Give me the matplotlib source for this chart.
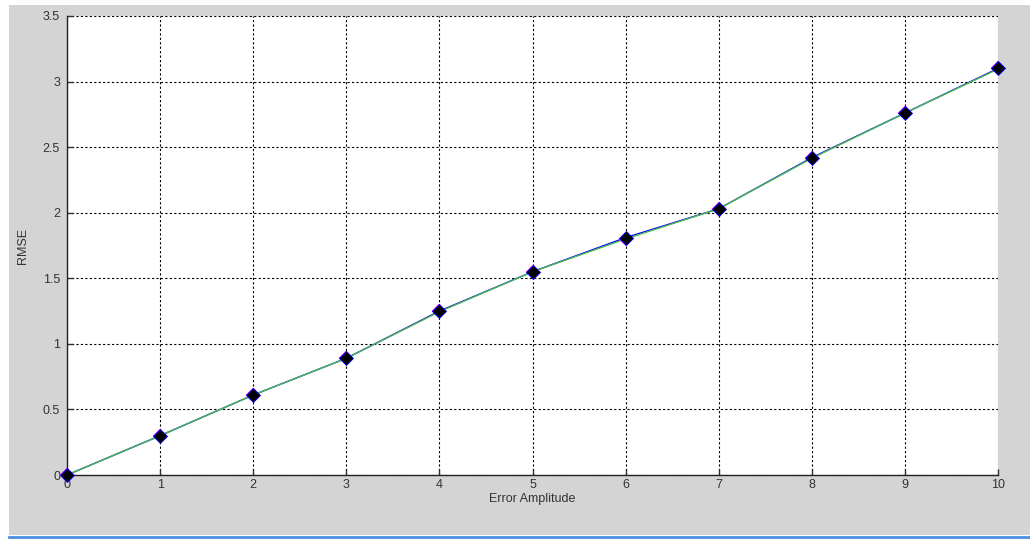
import matplotlib
matplotlib.use("Agg")
import matplotlib.pyplot as plt
from matplotlib.patches import Rectangle
from matplotlib.lines import Line2D

amplitude = [0, 1, 2, 3, 4, 5, 6, 7, 8, 9, 10]
rmse_blue = [0.0, 0.30, 0.61, 0.89, 1.25, 1.55, 1.81, 2.03, 2.42, 2.76, 3.10]
rmse_magenta = [0.0, 0.30, 0.61, 0.89, 1.25, 1.55, 1.80, 2.03, 2.42, 2.76, 3.10]
rmse_green = [0.0, 0.30, 0.61, 0.89, 1.245, 1.55, 1.80, 2.03, 2.415, 2.76, 3.095]
xticks = [0, 1, 2, 3, 4, 5, 6, 7, 8, 9, 10]
yticks = [0, 0.5, 1, 1.5, 2, 2.5, 3, 3.5]
ytick_labels = ["0", "0.5", "1", "1.5", "2", "2.5", "3", "3.5"]

W, H = 1030, 539
fig = plt.figure(figsize=(W / 100, H / 100), dpi=100)
fig.patch.set_facecolor("white")
fig.patches.append(Rectangle((9 / W, 1 - 535 / H), (W - 9) / W, 530 / H,
                             transform=fig.transFigure, facecolor="#d4d4d4",
                             edgecolor="none", zorder=-5))
fig.lines.append(Line2D([9 / W, 1], [1 - 537 / H, 1 - 537 / H], transform=fig.transFigure,
                        color="#4a90e2", lw=2, zorder=-5))

left, right, top, bottom = 67, 998, 16, 475
ax = fig.add_axes([left / W, 1 - bottom / H, (right - left) / W, (bottom - top) / H])
ax.set_zorder(1)
ax.set_facecolor("white")

ax.plot(amplitude, rmse_blue, color="blue", lw=1.0, zorder=3)
ax.plot(amplitude, rmse_green, color="#4cbb4c", lw=1.0, zorder=4)
ax.plot(amplitude, rmse_magenta, lw=0, marker="D", markersize=7,
        markerfacecolor="magenta", markeredgecolor="magenta", markeredgewidth=0.3,
        zorder=5, clip_on=False)
ax.plot(amplitude, rmse_blue, lw=0, marker="D", markersize=6.7,
        markerfacecolor="black", markeredgecolor="blue", markeredgewidth=0.6,
        zorder=6, clip_on=False)

ax.set_xlim(0, 10)
ax.set_ylim(0, 3.5)
ax.set_xticks(xticks)
ax.set_yticks(yticks)
ax.set_yticklabels(ytick_labels)
for s in ["top", "right"]:
    ax.spines[s].set_visible(False)
for s in ["left", "bottom"]:
    ax.spines[s].set_color("#222222")
    ax.spines[s].set_linewidth(1)
ax.grid(True, color="black", linestyle=(0, (2, 2)), linewidth=0.8)
ax.tick_params(direction="in", length=4, colors="#333333", labelsize=9,
               labelfontfamily="Liberation Sans", width=1)
ax.tick_params(axis="x", pad=3)
ax.tick_params(axis="y", pad=5)
ax.set_xlabel("Error Amplitude", fontfamily="Liberation Sans", fontsize=9,
              color="#333333", labelpad=1)
ax.set_ylabel("RMSE", fontfamily="Liberation Sans", fontsize=9, color="#333333",
              labelpad=10)

fig.savefig("out.png", dpi=100, facecolor=fig.get_facecolor())
